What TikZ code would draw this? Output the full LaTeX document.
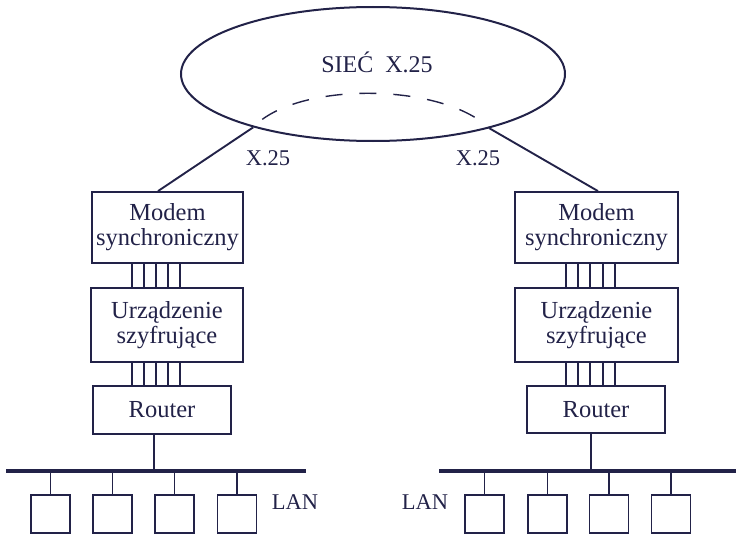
\documentclass[tikz,border=0pt]{standalone}
\usepackage{fontspec}
\setmainfont{Liberation Serif}
\usetikzlibrary{shapes.geometric,calc}
\definecolor{ink}{RGB}{34,34,72}
\tikzset{
  devbox/.style={draw=ink, line width=1.8pt, rectangle, inner sep=0pt, align=center,
    text=ink, font=\fontsize{24.5}{25}\selectfont},
  pcbox/.style={draw=ink, line width=1.7pt, rectangle, inner sep=0pt,
    minimum width=39, minimum height=38},
  wire/.style={draw=ink, line width=1.7pt},
  busline/.style={draw=ink, line width=4pt},
  lbl/.style={text=ink, font=\fontsize{22.5}{25}\selectfont, inner sep=0pt},
}
\begin{document}
\begin{tikzpicture}[x=1pt,y=-1pt]
\useasboundingbox (0,0) rectangle (736,535);

% X.25 network cloud
\node[draw=ink, line width=2pt, ellipse, minimum width=384, minimum height=134, inner sep=0pt] (net) at (373,74) {};
\node[lbl, font=\fontsize{24}{25}\selectfont] (netname) at (377,62) {SIEĆ~~X.25};
\coordinate (accL) at (net.204.6);
\coordinate (accR) at (net.335.3);
\draw[ink, line width=1.4pt, dash pattern=on 17pt off 17pt, dash phase=-12pt]
  (accL) .. controls +(43,-46) and +(-48,-46) .. (accR);

% left site
\node[devbox, minimum width=151, minimum height=71] (modL) at (167.5,227.5) {Modem\\synchroniczny};
\node[devbox, minimum width=152, minimum height=74] (encL) at (167,325) {Urządzenie\\szyfrujące};
\node[devbox, minimum width=138, minimum height=48] (rtL) at (162,410) {Router};

% right site
\node[devbox, minimum width=163, minimum height=71] (modR) at (596.5,227.5) {Modem\\synchroniczny};
\node[devbox, minimum width=163, minimum height=74] (encR) at (596.5,325) {Urządzenie\\szyfrujące};
\node[devbox, minimum width=138, minimum height=47] (rtR) at (596,409.5) {Router};

% access links to the network
\draw[wire, line width=1.9pt] (accL) -- (modL.north -| 158,0);
\draw[wire, line width=1.9pt] (accR) -- (modR.north -| 598,0);
\node[lbl] (x25L) at (268,158) {X.25};
\node[lbl] (x25R) at (478,158) {X.25};

% parallel interface lines between devices
\foreach \x in {132,144,156,168,180} {
  \draw[wire] (modL.south -| \x,0) -- (encL.north -| \x,0);
  \draw[wire] (encL.south -| \x,0) -- (rtL.north -| \x,0);
}
\foreach \x in {566,578,590,603,615} {
  \draw[wire] (modR.south -| \x,0) -- (encR.north -| \x,0);
  \draw[wire] (encR.south -| \x,0) -- (rtR.north -| \x,0);
}

% LAN buses
\coordinate (busLa) at (6,471);
\coordinate (busLb) at (306,471);
\coordinate (busRa) at (439,471);
\coordinate (busRb) at (736,471);
\draw[busline] (busLa) -- (busLb);
\draw[busline] (busRa) -- (busRb);
\draw[wire] (rtL.south -| 154,0) -- (busLa -| 154,0);
\draw[wire] (rtR.south -| 591,0) -- (busRa -| 591,0);

% workstations
\foreach \n/\x in {1/50.5,2/112.5,3/174.5,4/237} {
  \node[pcbox] (pcL\n) at (\x,514) {};
  \draw[wire] (pcL\n.north) -- (pcL\n.north |- busLa);
}
\foreach \n/\x in {1/484.5,2/547.5,3/609,4/671} {
  \node[pcbox] (pcR\n) at (\x,514) {};
  \draw[wire] (pcR\n.north) -- (pcR\n.north |- busRa);
}
\node[lbl] (lanL) at (295,502) {LAN};
\node[lbl] (lanR) at (425,502) {LAN};
\end{tikzpicture}
\end{document}
